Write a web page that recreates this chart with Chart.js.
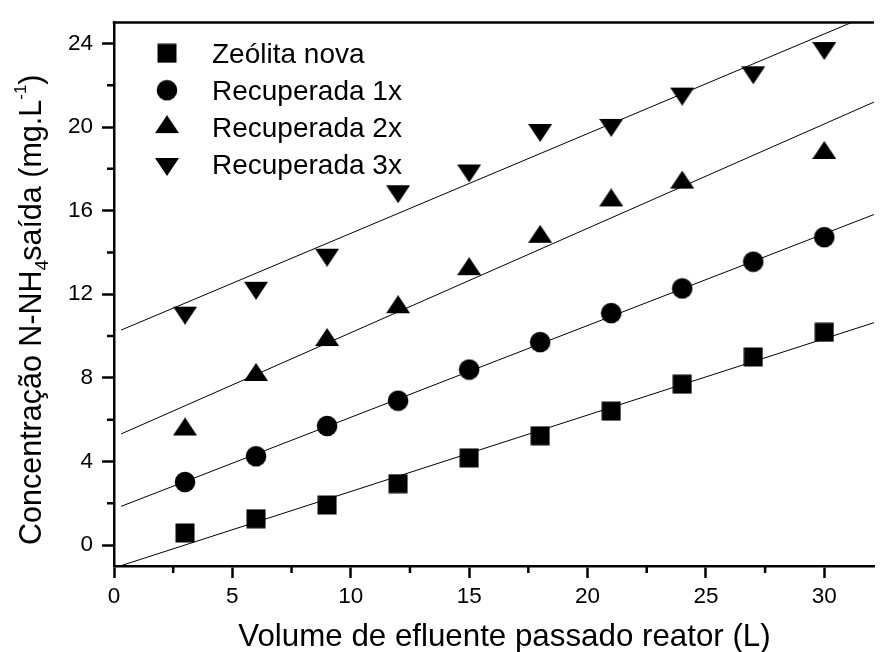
<!DOCTYPE html>
<html>
<head>
<meta charset="utf-8">
<title>N-NH4 saída</title>
<script src="https://cdn.jsdelivr.net/npm/chart.js@4.4.0/dist/chart.umd.min.js"></script>
<style>
  html, body { margin: 0; padding: 0; background: #fff; }
  #wrap { width: 885px; height: 652px; }
</style>
</head>
<body>
<div id="wrap"><canvas id="myChart" width="885" height="652"></canvas></div>
<script>
// values
const volume = [3, 6, 9, 12, 15, 18, 21, 24, 27, 30];
const zeolitaNova = [0.58, 1.26, 1.92, 2.94, 4.17, 5.23, 6.41, 7.70, 9.00, 10.18];
const recuperada1x = [3.02, 4.25, 5.70, 6.91, 8.40, 9.71, 11.10, 12.28, 13.56, 14.73];
const recuperada2x = [5.53, 8.14, 9.81, 11.38, 13.20, 14.75, 16.49, 17.34, null, 18.76];
const recuperada3x = [11.12, 12.31, 13.89, 16.93, 17.92, 19.86, 20.10, 21.60, 22.62, 23.78];
const seriesNames = ['Zeólita nova', 'Recuperada 1x', 'Recuperada 2x', 'Recuperada 3x'];

const xTicks = [0, 5, 10, 15, 20, 25, 30];
const yTicks = [0, 4, 8, 12, 16, 20, 24];
const X_MIN = 0, X_MAX = 32.1, Y_MIN = -1, Y_MAX = 25;
const FIT_FROM = 0.3;

const FONT = "'Liberation Sans', Arial, sans-serif";

// black filled markers like the original
function marker(kind) {
  const c = document.createElement('canvas');
  const s = kind == 'square' ? 20 : kind == 'circle' ? 22 : 24;
  c.width = s; c.height = s;
  const g = c.getContext('2d');
  g.fillStyle = '#000';
  g.beginPath();
  if (kind == 'square') g.rect(0.5, 0.5, 19, 19);
  else if (kind == 'circle') g.arc(11, 11, 10.3, 0, Math.PI * 2);
  else if (kind == 'up') { g.moveTo(12, 0); g.lineTo(24, 18); g.lineTo(0, 18); }
  else { g.moveTo(0, 6); g.lineTo(24, 6); g.lineTo(12, 24); }
  g.closePath();
  g.fill();
  return c;
}
const markers = [marker('square'), marker('circle'), marker('up'), marker('down')];

function points(ys) {
  return volume.map((x, i) => ({ x: x, y: ys[i] })).filter(p => p.y != null);
}

// least squares line, drawn across the axis like the origin fit
function fitLine(ys) {
  const p = points(ys);
  const n = p.length;
  const mx = p.reduce((s, q) => s + q.x, 0) / n;
  const my = p.reduce((s, q) => s + q.y, 0) / n;
  let sxy = 0, sxx = 0;
  p.forEach(q => { sxy += (q.x - mx) * (q.y - my); sxx += (q.x - mx) * (q.x - mx); });
  const b = sxy / sxx, a = my - b * mx;
  return [{ x: FIT_FROM, y: a + b * FIT_FROM }, { x: X_MAX, y: a + b * X_MAX }];
}

const allSeries = [zeolitaNova, recuperada1x, recuperada2x, recuperada3x];
const datasets = [];
allSeries.forEach((ys, i) => {
  datasets.push({
    label: seriesNames[i],
    data: points(ys),
    pointStyle: markers[i],
    pointRadius: 10,
    pointHoverRadius: 10
  });
});
allSeries.forEach((ys, i) => {
  datasets.push({
    label: 'fit ' + i,
    data: fitLine(ys),
    showLine: true,
    borderColor: '#000',
    borderWidth: 1,
    pointRadius: 0
  });
});

// frame top, minor ticks, legend and axis titles
const overlay = {
  id: 'overlay',
  afterDraw(chart) {
    const { ctx, chartArea: a, scales: { x, y } } = chart;
    ctx.save();
    ctx.strokeStyle = '#000';
    ctx.lineWidth = 2.5;
    ctx.beginPath();
    ctx.moveTo(a.left - 1.25, a.top);
    ctx.lineTo(a.right, a.top);
    // minor ticks halfway between labelled ones
    for (let i = 0; i < xTicks.length; i++) {
      const v = xTicks[i] + (xTicks[1] - xTicks[0]) / 2;
      if (v > X_MAX) break;
      const px = x.getPixelForValue(v);
      ctx.moveTo(px, a.bottom);
      ctx.lineTo(px, a.bottom + 7);
    }
    for (let i = 0; i < yTicks.length; i++) {
      const v = yTicks[i] + (yTicks[1] - yTicks[0]) / 2;
      if (v > Y_MAX) break;
      const py = y.getPixelForValue(v);
      ctx.moveTo(a.left, py);
      ctx.lineTo(a.left - 7, py);
    }
    ctx.stroke();

    // legend
    ctx.fillStyle = '#000';
    ctx.font = '28px ' + FONT;
    ctx.textAlign = 'left';
    ctx.textBaseline = 'alphabetic';
    seriesNames.forEach((name, i) => {
      const ry = 53.3 + i * 36.9;
      const m = markers[i];
      ctx.drawImage(m, 167 - m.width / 2, ry - m.height / 2);
      ctx.fillText(name, 212, ry + 10);
    });

    // x title
    ctx.font = '31.3px ' + FONT;
    ctx.textAlign = 'center';
    ctx.fillText('Volume de efluente passado reator (L)', 504.5, 646);

    // y title with sub and superscript
    ctx.translate(41, 545);
    ctx.rotate(-Math.PI / 2);
    ctx.textAlign = 'left';
    let cx = 0;
    function put(t, size, dy) {
      ctx.font = size + 'px ' + FONT;
      ctx.fillText(t, cx, dy);
      cx += ctx.measureText(t).width;
    }
    put('Concentração N-NH', 30.5, 0);
    put('4', 19, 7);
    cx -= 1;
    put('saída (mg.L', 30.5, 0);
    put('-1', 17, -15);
    put(')', 30.5, 0);
    ctx.restore();
  }
};

Chart.defaults.font.family = FONT;
Chart.defaults.color = '#000';

const ctx = document.getElementById('myChart');

new Chart(ctx, {
  type: 'scatter',
  data: { datasets: datasets },
  options: {
    responsive: false,
    animation: false,
    devicePixelRatio: 1,
    layout: { padding: { top: 15, right: 0, left: 0, bottom: 0 } },
    plugins: {
      legend: { display: false },
      tooltip: { enabled: false }
    },
    scales: {
      x: {
        type: 'linear',
        min: X_MIN,
        max: X_MAX,
        ticks: { stepSize: 5, includeBounds: false, font: { size: 22.5 }, padding: 5, color: '#000' },
        grid: { drawOnChartArea: false, tickLength: 12, tickWidth: 2.5, tickColor: '#000' },
        border: { color: '#000', width: 2.5 },
        afterBuildTicks: s => { s.ticks = s.ticks.filter(t => xTicks.includes(t.value)); },
        afterFit: s => { s.height = 86; }
      },
      y: {
        type: 'linear',
        min: Y_MIN,
        max: Y_MAX,
        ticks: { stepSize: 4, includeBounds: false, font: { size: 22.5 }, padding: 9, color: '#000' },
        grid: { drawOnChartArea: false, tickLength: 12, tickWidth: 2.5, tickColor: '#000' },
        border: { color: '#000', width: 2.5 },
        afterBuildTicks: s => { s.ticks = s.ticks.filter(t => yTicks.includes(t.value)); },
        afterFit: s => { s.width = 114; }
      }
    }
  },
  plugins: [overlay]
});
</script>
</body>
</html>
